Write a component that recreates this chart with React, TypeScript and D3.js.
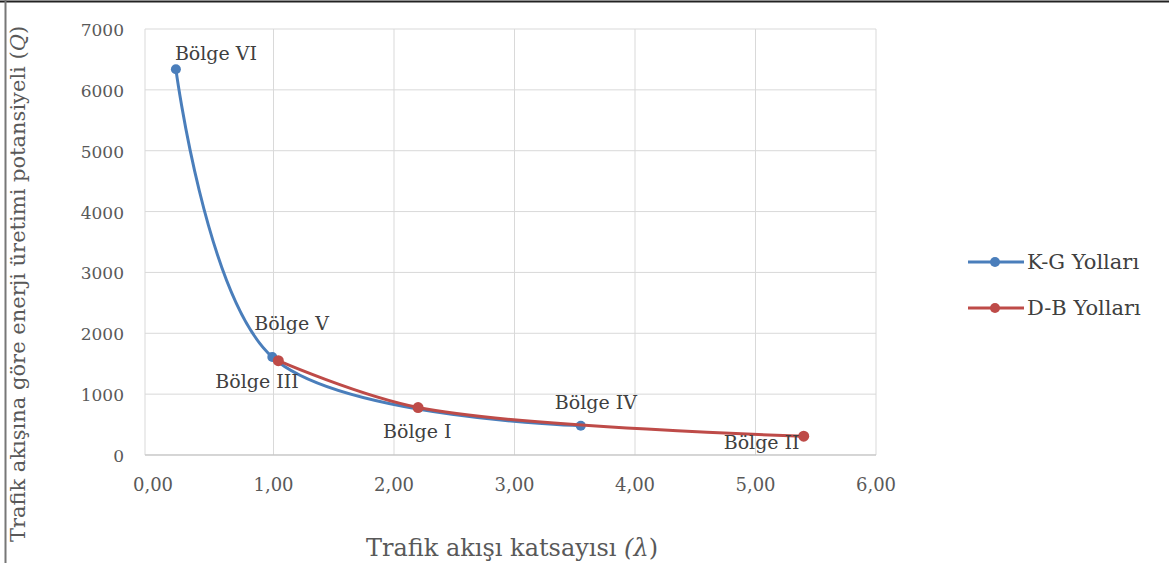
import React from "react";
import * as d3 from "d3";

// ---- data ----
const kgLambda = [0.19, 0.99, 3.55];
const kgQ = [6340, 1610, 480];
const kgRegions = ["Bölge VI", "Bölge V", "Bölge IV"];

const dbLambda = [1.04, 2.2, 5.4];
const dbQ = [1550, 780, 310];
const dbRegions = ["Bölge III", "Bölge I", "Bölge II"];

const xTicks = [0, 1, 2, 3, 4, 5, 6];
const yTicks = [0, 1000, 2000, 3000, 4000, 5000, 6000, 7000];
const seriesNames = ["K-G Yolları", "D-B Yolları"];

// label offsets (pixels relative to the point)
const kgLabelOffsets = [[-1, -9], [-18, -27], [-26, -17]];
const dbLabelOffsets = [[-63, 27], [-35, 30], [-80, 13]];

const W = 1169;
const H = 563;
const BLUE = "#4A7EBB";
const RED = "#BE4B48";
const FONT = "'DejaVu Serif', 'Liberation Serif', serif";

export default function App() {
  const x = d3.scaleLinear().domain([0, 6]).range([153, 876]);
  const y = d3.scaleLinear().domain([0, 7000]).range([455, 29]);
  const plotLeft = x(0) - 8;
  const plotRight = x(6);

  const line = d3
    .line<[number, number]>()
    .x((d) => x(d[0]))
    .y((d) => y(d[1]))
    .curve(d3.curveCatmullRom.alpha(0.5));

  const kg: [number, number][] = kgLambda.map((v, i) => [v, kgQ[i]]);
  const db: [number, number][] = dbLambda.map((v, i) => [v, dbQ[i]]);

  const fmtX = (v: number) => v.toFixed(2).replace(".", ",");

  return (
    <svg width={W} height={H} style={{ position: "absolute", left: 0, top: 0, background: "#fff" }}>
      <rect x={0} y={0} width={W} height={H} fill="#fff" />
      {/* outer frame */}
      <line x1={0} x2={W} y1={1.5} y2={1.5} stroke="#222" strokeWidth={2} />
      <line x1={5.5} x2={5.5} y1={0} y2={H} stroke="#777" strokeWidth={2} />

      {/* gridlines */}
      {yTicks.map((t) => (
        <line key={"gy" + t} x1={plotLeft} x2={plotRight} y1={y(t)} y2={y(t)} stroke="#d9d9d9" strokeWidth={1} />
      ))}
      {xTicks.map((t) => (
        <line key={"gx" + t} x1={t === 0 ? plotLeft : x(t)} x2={t === 0 ? plotLeft : x(t)} y1={y(7000)} y2={y(0)} stroke="#d9d9d9" strokeWidth={1} />
      ))}
      <line x1={plotLeft} x2={plotRight} y1={y(0)} y2={y(0)} stroke="#bfbfbf" strokeWidth={1} />

      {/* tick labels */}
      {yTicks.map((t) => (
        <text key={"ty" + t} x={124} y={y(t) + 7} textAnchor="end" fontFamily={FONT} fontSize={17} fill="#595959">
          {t}
        </text>
      ))}
      {xTicks.map((t) => (
        <text key={"tx" + t} x={x(t)} y={491} textAnchor="middle" fontFamily={FONT} fontSize={18} fill="#595959">
          {fmtX(t)}
        </text>
      ))}

      {/* axis titles */}
      <text x={512} y={556} textAnchor="middle" fontFamily={FONT} fontSize={24} fill="#595959">
        Trafik akışı katsayısı <tspan fontStyle="italic">(λ</tspan>)
      </text>
      <text
        transform={`translate(25,284) rotate(-90)`}
        textAnchor="middle"
        fontFamily={FONT}
        fontSize={21}
        fill="#595959"
      >
        Trafik akışına göre enerji üretimi potansiyeli (<tspan fontStyle="italic">Q</tspan>)
      </text>

      {/* series */}
      <path d={line(kg) || ""} fill="none" stroke={BLUE} strokeWidth={3} />
      {kg.map((d, i) => (
        <circle key={"kp" + i} cx={x(d[0])} cy={y(d[1])} r={5} fill={BLUE} />
      ))}
      <path d={line(db) || ""} fill="none" stroke={RED} strokeWidth={3} />
      {db.map((d, i) => (
        <circle key={"dp" + i} cx={x(d[0])} cy={y(d[1])} r={5.5} fill={RED} />
      ))}

      {/* data labels */}
      {kg.map((d, i) => (
        <text key={"kl" + i} x={x(d[0]) + kgLabelOffsets[i][0]} y={y(d[1]) + kgLabelOffsets[i][1]} fontFamily={FONT} fontSize={19} fill="#404040">
          {kgRegions[i]}
        </text>
      ))}
      {db.map((d, i) => (
        <text key={"dl" + i} x={x(d[0]) + dbLabelOffsets[i][0]} y={y(d[1]) + dbLabelOffsets[i][1]} fontFamily={FONT} fontSize={19} fill="#404040">
          {dbRegions[i]}
        </text>
      ))}

      {/* legend */}
      {seriesNames.map((name, i) => {
        const ly = 262 + i * 46;
        const c = i === 0 ? BLUE : RED;
        return (
          <g key={"lg" + i}>
            <line x1={968} x2={1024} y1={ly} y2={ly} stroke={c} strokeWidth={3} />
            <circle cx={995} cy={ly} r={5} fill={c} />
            <text x={1027} y={ly + 7} fontFamily={FONT} fontSize={21} fill="#404040">
              {name}
            </text>
          </g>
        );
      })}
    </svg>
  );
}
